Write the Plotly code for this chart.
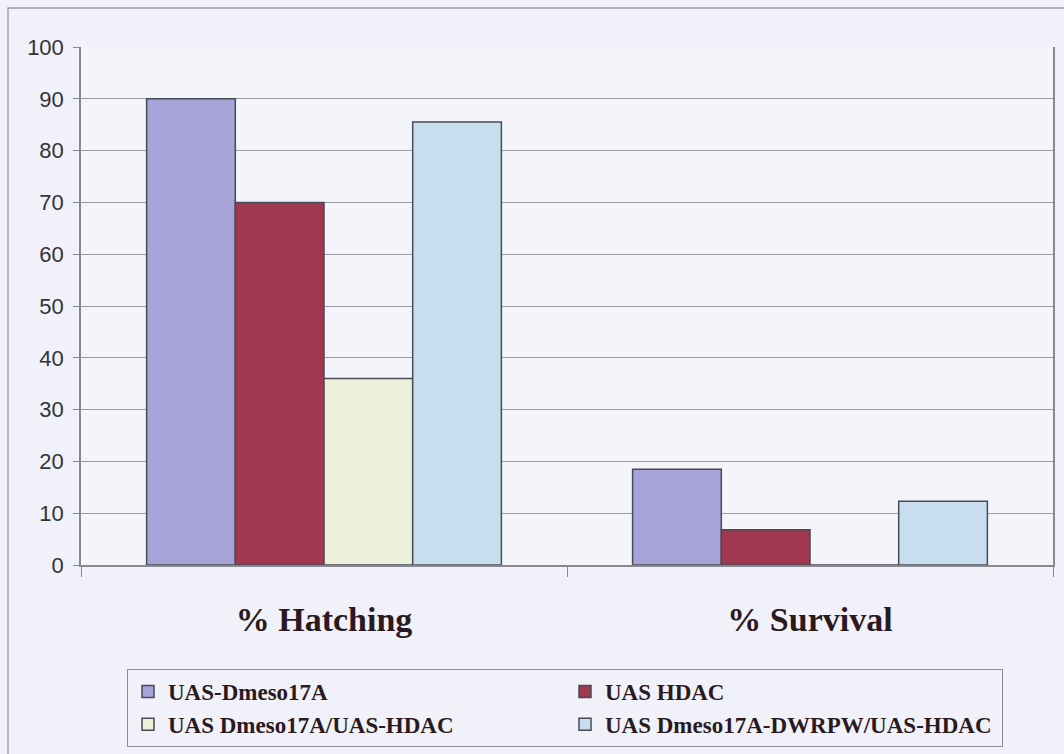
import plotly.graph_objects as go

# Outcome measures on the x axis
categories = ["% Hatching", "% Survival"]

# Percentages for each genotype
uas_dmeso17a = [90, 18.5]
uas_hdac = [70, 6.8]
uas_dmeso17a_hdac = [36, 0]
uas_dmeso17a_dwrpw_hdac = [85.5, 12.3]

series = [
    ("UAS-Dmeso17A", uas_dmeso17a, "#a8a3d8"),
    ("UAS HDAC", uas_hdac, "#9f3850"),
    ("UAS Dmeso17A/UAS-HDAC", uas_dmeso17a_hdac, "#edf0d8"),
    ("UAS Dmeso17A-DWRPW/UAS-HDAC", uas_dmeso17a_dwrpw_hdac, "#c8deee"),
]

y_ticks = [0, 10, 20, 30, 40, 50, 60, 70, 80, 90, 100]

fig = go.Figure()
for name, vals, color in series:
    fig.add_trace(go.Bar(
        name=name,
        x=categories,
        y=vals,
        marker=dict(color=color, line=dict(color="#4a4a55", width=1.5)),
    ))

W, H = 1064, 754
L, R, T, B = 81, 11, 47, 189

fig.update_layout(
    width=W, height=H,
    margin=dict(l=L, r=R, t=T, b=B, autoexpand=False),
    paper_bgcolor="#f1f1f9",
    plot_bgcolor="#f4f4fb",
    barmode="group",
    bargap=0.27,
    bargroupgap=0,
    showlegend=True,
    legend=dict(
        orientation="h",
        x=(127 - L) / (W - L - R),
        xanchor="left",
        y=(H - B - 669) / (H - T - B),
        yanchor="top",
        entrywidth=392,
        bgcolor="rgba(0,0,0,0)",
        bordercolor="#8a8a90",
        borderwidth=1,
        font=dict(family="Liberation Serif", size=23, color="#2a1a1e", weight="bold"),
        traceorder="normal",
    ),
    xaxis=dict(
        tickson="boundaries",
        ticks="outside",
        ticklen=10,
        tickcolor="#888890",
        showline=True,
        linecolor="#888890",
        linewidth=1.5,
        showgrid=False,
        tickfont=dict(family="Liberation Serif", size=34, color="#2a1a1e", weight="bold"),
        ticklabelstandoff=23,
    ),
    yaxis=dict(
        range=[0, 100],
        tickvals=y_ticks,
        ticks="outside",
        ticklen=6,
        tickcolor="#888890",
        showline=True,
        mirror=True,
        linecolor="#888890",
        linewidth=1.5,
        showgrid=True,
        gridcolor="#9a9aa2",
        gridwidth=1.3,
        zeroline=False,
        tickfont=dict(family="Liberation Sans", size=22, color="#333338"),
        ticklabelstandoff=5,
    ),
)

# Outer chart-area frame
pw, ph = W - L - R, H - T - B
fig.add_shape(
    type="rect", xref="paper", yref="paper",
    x0=(8 - L) / pw, x1=1.2,
    y0=-0.6, y1=(H - B - 8) / ph,
    line=dict(color="#9a9aa2", width=1.3),
    fillcolor="rgba(0,0,0,0)",
    layer="below",
)

fig.write_html("out.html")
